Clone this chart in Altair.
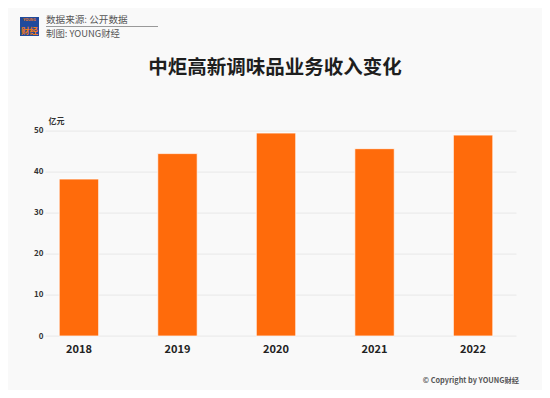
import altair as alt
import pandas as pd

years = ["2018", "2019", "2020", "2021", "2022"]
revenue = [38.2, 44.4, 49.4, 45.6, 48.9]
y_ticks = [0, 10, 20, 30, 40, 50]

title_text = "中炬高新调味品业务收入变化"
source_text = "数据来源: 公开数据"
maker_text = "制图: YOUNG财经"
copyright_text = "© Copyright by YOUNG财经"
unit_text = "亿元"

FONT = "Noto Sans CJK SC"
BG = "#F9F9F9"

df = pd.DataFrame({"year": years, "value": revenue})

bars = alt.Chart(df).mark_bar(
    color="#FF6B0B", stroke="#FFFFFF", strokeWidth=1, strokeOpacity=0.7
).encode(
    x=alt.X("year:N", sort=years,
            scale=alt.Scale(paddingInner=0.6, paddingOuter=0.19, align=0.38),
            axis=alt.Axis(title=None, labelAngle=0, labelFont=FONT, labelFontSize=11,
                          labelFontWeight="bold", labelColor="#222222", labelPadding=7,
                          ticks=False, domain=False, grid=False)),
    y=alt.Y("value:Q",
            scale=alt.Scale(domain=[0, 50], nice=False),
            axis=alt.Axis(values=y_ticks, title=unit_text, titleAngle=0, titleX=3, titleY=-5,
                          titleAlign="left", titleBaseline="bottom", titleFont=FONT,
                          titleFontSize=8, titleFontWeight="bold", titleColor="#333333",
                          labelFont=FONT, labelFontSize=8, labelFontWeight="bold",
                          labelColor="#333333", labelPadding=2, ticks=False, domain=False,
                          gridColor="#E8E8E8", gridWidth=1)),
)

def txt(s, x, y, size, color="#555555", weight="normal", align="left"):
    return alt.Chart(pd.DataFrame({"t": [s]})).mark_text(
        font=FONT, fontSize=size, color=color, fontWeight=weight, align=align,
        baseline="middle", clip=False
    ).encode(text="t:N", x=alt.value(x), y=alt.value(y))

# coordinates relative to plot origin (45, 130.6)
ox, oy = 45, 130.6
logo_bg = alt.Chart(pd.DataFrame({"a": [1]})).mark_rect(color="#1F4A9C", clip=False).encode(
    x=alt.value(20 - ox), x2=alt.value(39 - ox), y=alt.value(17 - oy), y2=alt.value(36 - oy)
)
logo_t1 = txt("YOUNG", 29.5 - ox, 20.3 - oy, 3.6, color="#F07A20", weight="bold", align="center")
logo_t2 = txt("财经", 29.5 - ox, 30.5 - oy, 8.5, color="#F07A20", weight="bold", align="center")
sep = alt.Chart(pd.DataFrame({"a": [1]})).mark_rule(color="#999999", strokeWidth=1, clip=False).encode(
    x=alt.value(46 - ox), x2=alt.value(158 - ox), y=alt.value(26.5 - oy)
)
src = txt(source_text, 46 - ox, 19.5 - oy, 9.6)
mk = txt(maker_text, 46 - ox, 33.5 - oy, 9.4)
ttl = txt(title_text, 275 - ox, 68 - oy, 19.5, color="#1E1E1E", weight="bold", align="center")
cp = txt(copyright_text, 519 - ox, 381 - oy, 7.3, color="#555555", weight="bold", align="right")

chart = alt.layer(bars, logo_bg, logo_t1, logo_t2, sep, src, mk, ttl, cp).properties(
    width=471, height=205.4,
    autosize=alt.AutoSizeParams(type="none"),
    padding={"left": 37, "top": 122.6, "right": 26, "bottom": 54},
    background=BG,
).configure_view(stroke=None)

chart.save("out.html", embed_options={"renderer": "svg", "actions": False})
